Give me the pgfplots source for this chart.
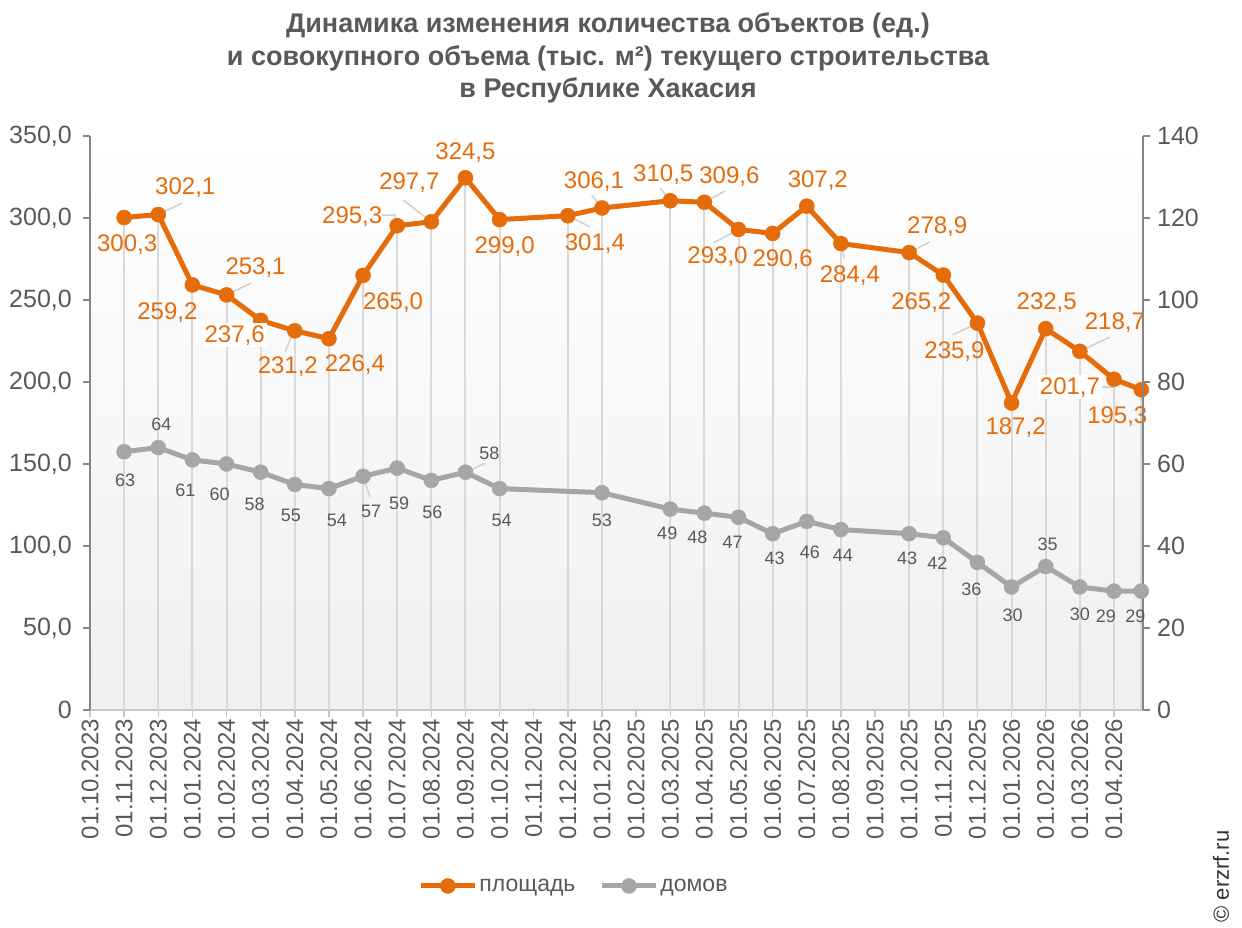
\documentclass[border=0pt]{standalone}
\usepackage{pgfplots}
\pgfplotsset{compat=1.18}
\usepackage{pgfplotstable}
\usepackage{fontspec}
\setmainfont{Liberation Sans}
\definecolor{orn}{HTML}{E46C0A}
\definecolor{gry}{HTML}{A6A6A6}
\definecolor{txt}{HTML}{595959}
\definecolor{axl}{HTML}{868686}
\definecolor{ldr}{HTML}{D0D0D0}

\pgfplotstableread{
x y dx dy fo
1 300.3 3 -27 0
2 302.1 27 27 0
3 259.2 -25 -28 0
4 253.1 29 27 0
5 237.6 -26 -15 1
6 231.2 -7 -36 0
7 226.4 26 -26 0
8 265.0 30 -27 0
9 295.3 -45 9 0
10 297.7 -22 39 0
11 324.5 0 25 0
12 299.0 5 -27 0
14 301.4 27 -28 0
15 306.1 -8 26 0
17 310.5 -7 26 0
18 309.6 25 26 0
19 293.0 -21 -27 0
20 290.6 10 -26 0
21 307.2 11 26 0
22 284.4 9 -32 0
24 278.9 28 26 0
25 265.2 -22 -28 0
26 235.9 -23 -29 0
27 187.2 4 -25 0
28 232.5 1 26 0
29 218.7 35 29 0
30 201.7 -44 -8 1
30.8 195.3 -24 -27 0
}\area

\pgfplotstableread{
x y dx dy
1 63 1 -29
2 64 3 23
3 61 -7 -30
4 60 -7 -30
5 58 -6 -32
6 55 -4 -31
7 54 8 -32
8 57 8 -35
9 59 2 -35
10 56 1 -32
11 58 24 19
12 54 2 -32
15 53 0 -28
17 49 -3 -24
18 48 -7 -24
19 47 -6 -25
20 43 2 -25
21 46 3 -31
22 44 2 -26
24 43 -2 -25
25 42 -6 -25
26 36 -6 -27
27 30 1 -28
28 35 2 22
29 30 0 -27
30 29 -8 -25
30.8 29 -6 -25
}\houses

\begin{document}
\begin{tikzpicture}[x=1pt,y=1pt]
\useasboundingbox (-90,-218) rectangle (1152,710);
\node[align=center, font=\fontsize{27}{32.5}\selectfont\bfseries, text=txt] at (518,652)
 {Динамика изменения количества объектов (ед.)\\и совокупного объема (тыс. м²) текущего строительства\\в Республике Хакасия};
\node[rotate=90, anchor=west, font=\fontsize{22}{26}\selectfont, text=black!80] at (1131,-216) {© erzrf.ru};

\begin{axis}[
 at={(0pt,0pt)}, anchor=south west, scale only axis,
 width=1053pt, height=574pt,
 xmin=0, xmax=30.85, ymin=0, ymax=350,
 axis y line*=left, axis x line*=bottom,
 axis background/.style={top color=white, bottom color=black!6},
 /pgf/number format/assume math mode=true,
 xtick={0,...,30},
 xticklabels={01.10.2023,01.11.2023,01.12.2023,01.01.2024,01.02.2024,01.03.2024,01.04.2024,01.05.2024,01.06.2024,01.07.2024,01.08.2024,01.09.2024,01.10.2024,01.11.2024,01.12.2024,01.01.2025,01.02.2025,01.03.2025,01.04.2025,01.05.2025,01.06.2025,01.07.2025,01.08.2025,01.09.2025,01.10.2025,01.11.2025,01.12.2025,01.01.2026,01.02.2026,01.03.2026,01.04.2026},
 xticklabel style={rotate=90, anchor=east, font=\fontsize{24}{28}\selectfont, text=txt, inner sep=2pt},
 ytick={0,50,...,350},
 yticklabels={0,{50,0},{100,0},{150,0},{200,0},{250,0},{300,0},{350,0}},
 yticklabel style={font=\fontsize{25}{29}\selectfont, text=txt, inner sep=4pt, xshift=-7pt},
 tick align=outside, major tick length=7pt,
 x axis line style={draw=black!22, line width=1.5pt},
 y axis line style={draw=axl, line width=1.5pt},
 xtick style={draw=black!22, line width=1.5pt},
 ytick style={draw=axl, line width=1.5pt},
 clip=false,
 legend style={at={(axis description cs:0.4596,-0.3066)}, anchor=center, draw=none, fill=none,
   font=\fontsize{23}{27}\selectfont, text=txt, legend columns=2,
   /tikz/every even column/.append style={column sep=22pt}},
 legend image code/.code={\draw[mark repeat=2,mark phase=2] plot coordinates {(0pt,0pt) (27pt,0pt) (54pt,0pt)};},
]
\addplot[ycomb, draw=black!15, line width=2pt, no marks, forget plot] table[x=x,y=y] {\area};
% leader lines
\addplot[draw=ldr, line width=1.5pt, forget plot] coordinates {(2,302.1) (2.7,309.1)};
\addplot[draw=ldr, line width=1.5pt, forget plot] coordinates {(4,253.1) (4.73,260.4)};
\addplot[draw=ldr, line width=1.5pt, forget plot] coordinates {(5.95,230) (5.71,218.3)};
\addplot[draw=ldr, line width=1.5pt, forget plot] coordinates {(8.55,301.8) (8.94,301.8) (9,295.3)};
\addplot[draw=ldr, line width=1.5pt, forget plot] coordinates {(9.18,310.9) (10,297.7)};
\addplot[draw=ldr, line width=1.5pt, forget plot] coordinates {(14.7,314) (15,306.1)};
\addplot[draw=ldr, line width=1.5pt, forget plot] coordinates {(14,301.4) (14.65,294.5)};
\addplot[draw=ldr, line width=1.5pt, forget plot] coordinates {(16.7,318.3) (17,310.5)};
\addplot[draw=ldr, line width=1.5pt, forget plot] coordinates {(18,309.6) (18.6,316.5)};
\addplot[draw=ldr, line width=1.5pt, forget plot] coordinates {(19,293) (18.26,284.8)};
\addplot[draw=ldr, line width=1.5pt, forget plot] coordinates {(22,284.4) (22.1,275.6)};
\addplot[draw=ldr, line width=1.5pt, forget plot] coordinates {(24,278.9) (24.6,285.4)};
\addplot[draw=ldr, line width=1.5pt, forget plot] coordinates {(26,235.9) (25.27,228.7)};
\addplot[draw=ldr, line width=1.5pt, forget plot] coordinates {(29,218.7) (29.88,227.4)};
\addplot[draw=ldr, line width=1.5pt, forget plot] coordinates {(29.5,197) (30,197)};
\addplot[color=orn, line width=5pt, mark=*, mark size=7.5pt, mark options={fill=orn, draw=orn, line width=0.5pt},
  nodes near coords={\pgfmathprintnumber[fixed,fixed zerofill,precision=1,use comma]{\pgfplotspointmeta}},
  nodes near coords align={center},
  visualization depends on={\thisrow{dx} \as \dx},
  visualization depends on={\thisrow{dy} \as \dy},
  visualization depends on={\thisrow{fo} \as \fo},
  every node near coord/.append style={anchor=center, xshift=\dx pt, yshift=\dy pt,
    font=\fontsize{24}{28}\selectfont, text=orn, fill=white, fill opacity=\fo, text opacity=1, inner sep=2pt}
] table[x=x,y=y] {\area};
\addlegendentry{площадь}
\addlegendimage{color=gry, line width=5pt, mark=*, mark size=7.5pt, mark options={fill=gry, draw=gry, line width=0.5pt}}
\addlegendentry{домов}
\end{axis}

\begin{axis}[
 at={(0pt,0pt)}, anchor=south west, scale only axis,
 width=1053pt, height=574pt,
 xmin=0, xmax=30.85, ymin=0, ymax=140,
 axis y line*=right, axis x line=none,
 /pgf/number format/assume math mode=true,
 ytick={0,20,...,140},
 yticklabel style={font=\fontsize{25}{29}\selectfont, text=txt, inner sep=4pt, xshift=3pt},
 tick align=outside, major tick length=7pt,
 y axis line style={draw=axl, line width=1.5pt},
 ytick style={draw=axl, line width=1.5pt},
 clip=false,
]
\addplot[draw=ldr, line width=1.5pt] coordinates {(11,58) (11.58,60.2)};
\addplot[draw=ldr, line width=1.5pt] coordinates {(8,57) (8.2,52.0)};
\addplot[color=gry, line width=5pt, mark=*, mark size=7.5pt, mark options={fill=gry, draw=gry, line width=0.5pt},
  nodes near coords={\pgfmathprintnumber[fixed,precision=0]{\pgfplotspointmeta}},
  nodes near coords align={center},
  visualization depends on={\thisrow{dx} \as \dx},
  visualization depends on={\thisrow{dy} \as \dy},
  every node near coord/.append style={anchor=center, xshift=\dx pt, yshift=\dy pt,
    font=\fontsize{18}{22}\selectfont, text=txt, inner sep=1pt}
] table[x=x,y=y] {\houses};
\end{axis}
\end{tikzpicture}
\end{document}
